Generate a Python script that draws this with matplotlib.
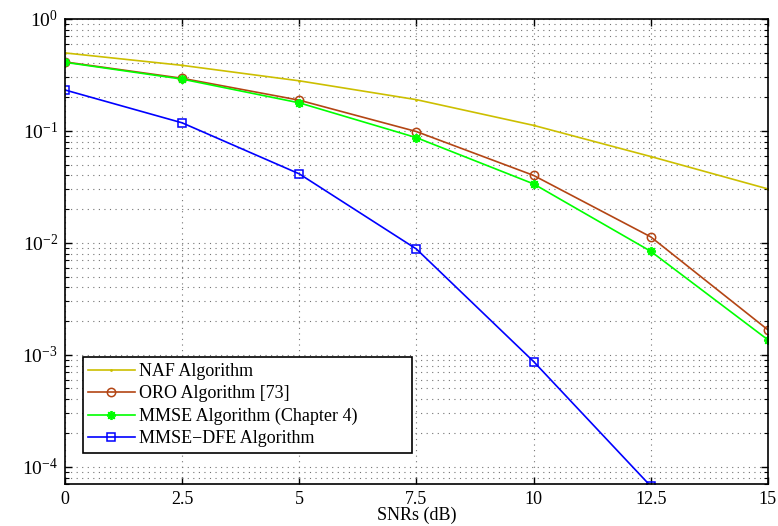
import numpy as np
import matplotlib
matplotlib.use("Agg")
from matplotlib import pyplot as plt
from matplotlib.ticker import LogLocator, FixedLocator

# Datos
snr = [0, 2.5, 5, 7.5, 10, 12.5, 15]
naf_ber = [0.497, 0.385, 0.28, 0.19, 0.112, 0.059, 0.0303]
oro_ber = [0.413, 0.295, 0.188, 0.0986, 0.040, 0.0113, 0.00167]
mmse_ber = [0.41, 0.29, 0.178, 0.087, 0.0336, 0.0084, 0.00136]
dfe_snr = [0, 2.5, 5, 7.5, 10, 12.5]
dfe_ber = [0.232, 0.118, 0.0413, 0.0088, 0.00087, 0.000067]

labels = ['NAF Algorithm', 'ORO Algorithm [73]', 'MMSE Algorithm (Chapter 4)', 'MMSE\u2212DFE Algorithm']
x_ticks = [0, 2.5, 5, 7.5, 10, 12.5, 15]
x_tick_labels = ['0', '2.5', '5', '7.5', '10', '12.5', '15']

plt.rcParams['font.family'] = ['Liberation Serif', 'DejaVu Serif']
plt.rcParams['mathtext.fontset'] = 'stix'
plt.rcParams['font.size'] = 13

fig = plt.figure(figsize=(7.78, 5.26), dpi=100)
ax = fig.add_axes([0.0835, 0.0798, 0.9035, 0.8842])

ax.semilogy(snr, naf_ber, color=(0.8, 0.75, 0.0), marker='.', markersize=2, lw=1.2, label=labels[0])
ax.semilogy(snr, oro_ber, color=(0.7, 0.27, 0.08), marker='o', markersize=6, mfc='none', mew=1.1, lw=1.2, label=labels[1])
ax.semilogy(snr, mmse_ber, color=(0.0, 1.0, 0.0), marker=(8, 2, 0), markersize=6.5, mew=1.3, lw=1.2, label=labels[2])
ax.semilogy(dfe_snr, dfe_ber, color=(0.0, 0.0, 1.0), marker='s', markersize=5.5, mfc='none', mew=1.1, lw=1.2, label=labels[3])

ax.set_xlim(0, 15)
ax.set_ylim(7e-5, 1)
ax.xaxis.set_major_locator(FixedLocator(x_ticks))
ax.set_xticklabels(x_tick_labels)
ax.yaxis.set_major_locator(LogLocator(base=10, numticks=10))
ax.yaxis.set_minor_locator(LogLocator(base=10, subs=np.arange(2, 10), numticks=20))

ax.grid(True, which='major', linestyle=(0, (1, 4)), color='0.45', lw=0.8)
ax.grid(True, which='minor', axis='y', linestyle=(0, (1, 4)), color='0.45', lw=0.8)

ax.tick_params(which='both', direction='in', top=True, right=True)
ax.tick_params(which='major', length=5, width=1)
ax.tick_params(which='minor', length=3, width=0.8)
ax.tick_params(axis='x', pad=5)
ax.tick_params(axis='y', labelsize=14, pad=5)
for s in ax.spines.values():
    s.set_linewidth(1.2)

ax.set_xlabel('SNRs (dB)', labelpad=-1)
ax.set_ylabel('BER')
ax.yaxis.set_label_coords(-0.087, 0.5)

leg = ax.legend(loc='lower left', bbox_to_anchor=(0.025, 0.067, 0.468, 0.2), mode='expand',
                borderaxespad=0, fancybox=False, framealpha=1, edgecolor='black',
                handlelength=2.6, handletextpad=0.25, labelspacing=0.3, borderpad=0.3)
leg.get_frame().set_linewidth(1.2)

plt.savefig('out.png', dpi=100)
